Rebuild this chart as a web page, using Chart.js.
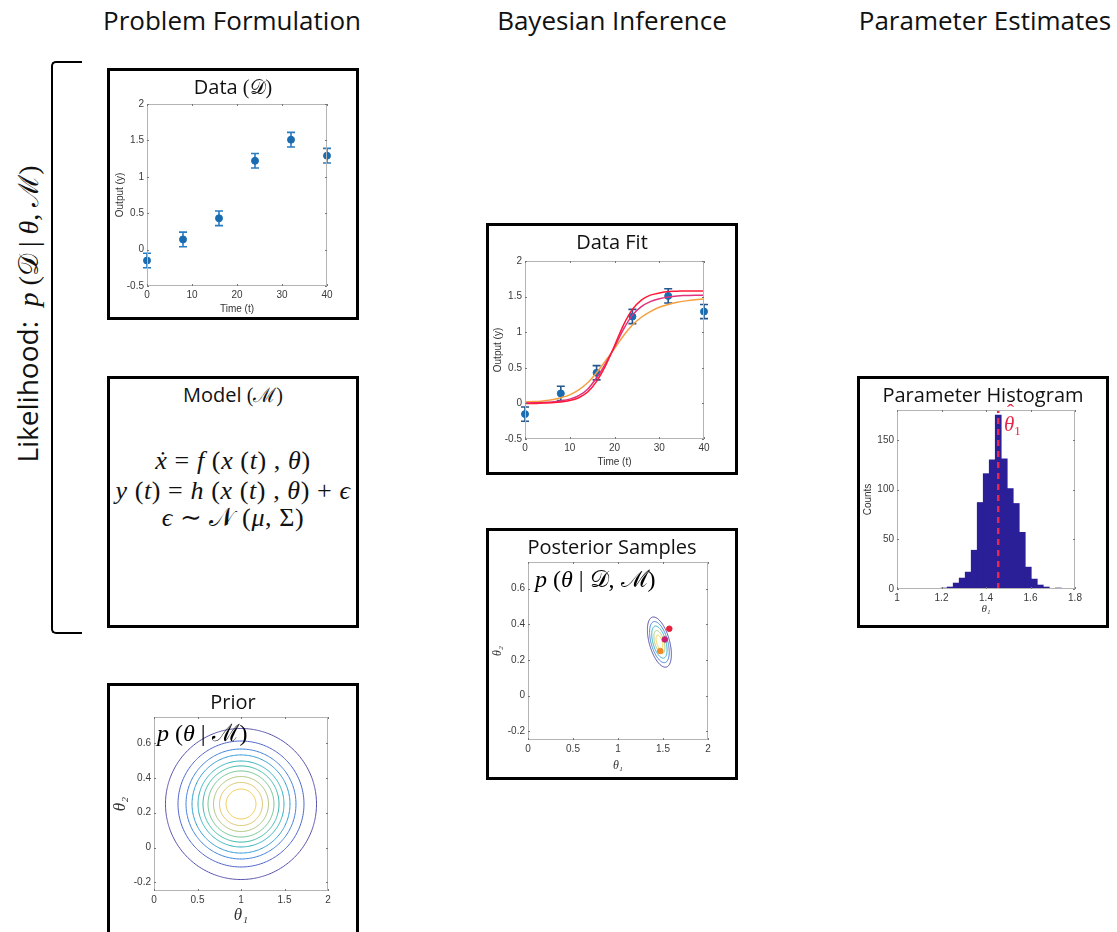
<!DOCTYPE html>
<html>
<head>
<meta charset="utf-8">
<script src="https://cdn.jsdelivr.net/npm/chart.js@4.4.0/dist/chart.umd.min.js"></script>
<style>
  body { margin: 0; background: #fff; width: 1117px; height: 932px; position: relative; overflow: hidden; font-family: "Open Sans", sans-serif; color: #111; }
  .hdr { position: absolute; top: 7px; font-size: 26px; line-height: 26px; transform: translateX(-50%); white-space: nowrap; }
  .box { position: absolute; width: 252px; height: 252px; border: 3px solid #000; box-sizing: border-box; background: #fff; }
  .box canvas { position: absolute; left: 0; top: 0; }
  .ttl { position: absolute; left: 0; right: 0; top: 6px; text-align: center; font-size: 20px; line-height: 20px; white-space: nowrap; }
  .m { font-family: "Liberation Serif", "DejaVu Serif", serif; }
  .mi { font-family: "Liberation Serif", "DejaVu Serif", serif; font-style: italic; }
  .ovl { position: absolute; font-family: "Liberation Serif", "DejaVu Serif", serif; font-size: 24px; line-height: 24px; white-space: nowrap; color: #000; }
  .eq { position: absolute; left: 0; right: 0; text-align: center; font-family: "Liberation Serif", "DejaVu Serif", serif; font-size: 26px; line-height: 26px; letter-spacing: 0.6px; white-space: nowrap; }
  .bracket { position: absolute; left: 51px; top: 61px; width: 31px; height: 573px; border: 2.5px solid #000; border-right: none; border-radius: 5px 0 0 5px; box-sizing: border-box; }
  .lik { position: absolute; left: 28px; top: 314px; transform: translate(-50%, -50%) rotate(-90deg); font-size: 28px; line-height: 28px; white-space: nowrap; }
</style>
</head>
<body>

<div class="hdr" style="left:232px">Problem Formulation</div>
<div class="hdr" style="left:612px">Bayesian Inference</div>
<div class="hdr" style="left:985px">Parameter Estimates</div>

<div class="bracket"></div>
<div class="lik">Likelihood:&nbsp; <span class="mi" style="font-size:28px">p</span><span class="m" style="font-size:28px"> (𝒟 | <i>θ</i>, ℳ)</span></div>

<div class="box" style="left:107px; top:68px">
  <canvas id="dataChart" width="246" height="246"></canvas>
  <div class="ttl">Data <span class="m">(𝒟)</span></div>
</div>

<div class="box" style="left:107px; top:376px">
  <div class="ttl">Model <span class="m">(ℳ)</span></div>
  <div class="eq" style="top:69px"><i>ẋ</i> = <i>f</i> (<i>x</i> (<i>t</i>) , <i>θ</i>)</div>
  <div class="eq" style="top:99px"><i>y</i> (<i>t</i>) = <i>h</i> (<i>x</i> (<i>t</i>) , <i>θ</i>) + <i>ϵ</i></div>
  <div class="eq" style="top:126px"><i>ϵ</i> ∼ 𝒩 (<i>μ</i>, Σ)</div>
</div>

<div class="box" style="left:107px; top:683px">
  <canvas id="priorChart" width="246" height="246"></canvas>
  <div class="ttl">Prior</div>
  <div class="ovl" style="left:47px; top:35px"><i>p</i> (<i>θ</i> | ℳ)</div>
</div>

<div class="box" style="left:486px; top:223px">
  <canvas id="fitChart" width="246" height="246"></canvas>
  <div class="ttl">Data Fit</div>
</div>

<div class="box" style="left:486px; top:528px">
  <canvas id="postChart" width="246" height="246"></canvas>
  <div class="ttl">Posterior Samples</div>
  <div class="ovl" style="left:46px; top:36px"><i>p</i> (<i>θ</i> | 𝒟, ℳ)</div>
</div>

<div class="box" style="left:857px; top:376px">
  <canvas id="histChart" width="246" height="246"></canvas>
  <div class="ttl">Parameter Histogram</div>
  <div class="ovl" style="left:144px; top:35px; color:#e8284a; font-size:21px; line-height:21px"><span style="position:relative"><i>θ</i><span style="position:absolute; left:3px; top:-10px; font-style:normal">ˆ</span></span><span style="font-size:13px; position:relative; top:4px">1</span></div>
</div>

<script>
// measured data
const timePts = [0, 8, 16, 24, 32, 40];
const outputY = [-0.15, 0.14, 0.43, 1.22, 1.51, 1.29];
const outputErr = [0.1, 0.1, 0.1, 0.1, 0.1, 0.1];

// three model fits
const fitTime = [0, 2, 4, 6, 8, 10, 12, 14, 16, 18, 20, 22, 24, 26, 28, 30, 32, 34, 36, 38, 40];
const fitRed = [0.00, 0.00, 0.005, 0.01, 0.02, 0.04, 0.08, 0.16, 0.31, 0.53, 0.81, 1.10, 1.32, 1.45, 1.52, 1.55, 1.57, 1.575, 1.58, 1.58, 1.58];
const fitMagenta = [0.005, 0.008, 0.012, 0.02, 0.035, 0.06, 0.11, 0.20, 0.36, 0.56, 0.79, 1.04, 1.24, 1.36, 1.43, 1.47, 1.495, 1.51, 1.515, 1.52, 1.52];
const fitOrange = [0.02, 0.025, 0.035, 0.05, 0.08, 0.12, 0.19, 0.29, 0.43, 0.60, 0.77, 0.95, 1.10, 1.21, 1.29, 1.35, 1.39, 1.42, 1.44, 1.455, 1.465];

const timeTicks = [0, 10, 20, 30, 40];
const outputTicks = [-0.5, 0, 0.5, 1, 1.5, 2];
const theta1Ticks = [0, 0.5, 1, 1.5, 2];
const theta2Ticks = [-0.2, 0, 0.2, 0.4, 0.6];

// prior contours: circles round (1, 0.25)
const priorCenter = [1, 0.25];
const priorRadT1 = [0.868, 0.724, 0.632, 0.563, 0.494, 0.437, 0.379, 0.316, 0.247, 0.172];
const priorRadT2 = [0.434, 0.362, 0.316, 0.282, 0.247, 0.219, 0.190, 0.158, 0.124, 0.086];
const priorColors = ['#5650a8', '#4c62cc', '#3f7fd6', '#2f99d4', '#2eaec0', '#3bb8a6', '#6cc08a', '#a8c072', '#d8be5c', '#f0c848'];

// posterior contours: tilted ellipses
const postCenter = [1.46, 0.30];
const postMajor = [0.078, -0.14];
const postMinor = [0.108, 0.016];
const postLevels = [1, 0.82, 0.64, 0.46, 0.28];
const postColors = ['#5048a4', '#3f7fd6', '#2eaec0', '#a8c872', '#f0d040'];

const sampleT1 = [1.57, 1.52, 1.47];
const sampleT2 = [0.375, 0.315, 0.25];
const sampleColors = ['#e8203c', '#c8206e', '#f08a28'];

// histogram of theta_1
const histCenters = [1.212, 1.239, 1.266, 1.293, 1.320, 1.347, 1.374, 1.401, 1.428, 1.455, 1.482, 1.509, 1.536, 1.563, 1.590, 1.617, 1.644, 1.671, 1.698, 1.725];
const histCounts = [1, 2, 6, 11, 17, 39, 87, 116, 130, 175, 131, 101, 86, 57, 22, 10, 4, 2, 0, 1];
const histTicksX = [1, 1.2, 1.4, 1.6, 1.8];
const histTicksY = [0, 50, 100, 150];
const thetaHat = 1.455;

Chart.defaults.font.family = '"Liberation Sans", Arial, sans-serif';
Chart.defaults.font.size = 10;
Chart.defaults.color = '#3a3a3a';
Chart.defaults.animation = false;
Chart.defaults.responsive = false;
Chart.defaults.plugins.legend.display = false;
Chart.defaults.plugins.tooltip.enabled = false;

// matlab style box with inward ticks
const frame = {
  id: 'frame',
  afterDatasetsDraw(chart) {
    const {ctx, chartArea: a, scales} = chart;
    ctx.save();
    ctx.strokeStyle = '#b4b4b4';
    ctx.lineWidth = 1;
    ctx.strokeRect(a.left + 0.5, a.top + 0.5, a.right - a.left - 1, a.bottom - a.top - 1);
    ctx.strokeStyle = '#777';
    ctx.beginPath();
    scales.x.ticks.forEach(t => {
      const px = Math.round(scales.x.getPixelForValue(t.value)) + 0.5;
      ctx.moveTo(px, a.bottom); ctx.lineTo(px, a.bottom - 2);
      ctx.moveTo(px, a.top); ctx.lineTo(px, a.top + 2);
    });
    scales.y.ticks.forEach(t => {
      const py = Math.round(scales.y.getPixelForValue(t.value)) + 0.5;
      ctx.moveTo(a.left, py); ctx.lineTo(a.left + 2, py);
      ctx.moveTo(a.right, py); ctx.lineTo(a.right - 2, py);
    });
    ctx.stroke();
    ctx.restore();
  }
};
Chart.register(frame);

function errorBars(color) {
  return {
    id: 'errbars',
    beforeDatasetsDraw(chart) {
      const {ctx, scales: {x, y}} = chart;
      ctx.save();
      ctx.strokeStyle = color;
      ctx.lineWidth = 1.6;
      timePts.forEach((t, i) => {
        const px = x.getPixelForValue(t);
        const y0 = y.getPixelForValue(outputY[i] - outputErr[i]);
        const y1 = y.getPixelForValue(outputY[i] + outputErr[i]);
        ctx.beginPath();
        ctx.moveTo(px, y0); ctx.lineTo(px, y1);
        ctx.moveTo(px - 4, y0); ctx.lineTo(px + 4, y0);
        ctx.moveTo(px - 4, y1); ctx.lineTo(px + 4, y1);
        ctx.stroke();
      });
      ctx.restore();
    }
  };
}

function axis(min, max, ticks, size, title, tfont, tpad) {
  return {
    type: 'linear', min: min, max: max, offset: false,
    grid: {display: false, drawTicks: false}, border: {display: false},
    afterBuildTicks: s => { s.ticks = ticks.map(v => ({value: v})); },
    afterFit: s => { if (s.isHorizontal()) s.height = size; else s.width = size; },
    ticks: {padding: 3, autoSkip: false, maxRotation: 0, callback: v => String(v)},
    title: {display: true, text: title, font: tfont, padding: tpad, color: '#333'}
  };
}

function pad(top, right) {
  return {padding: {left: 0, bottom: 0, top: top, right: right}};
}

// points round an ellipse from its centre and half axes
function ring(cx, cy, ax, ay, bx, by) {
  const pts = [];
  for (let k = 0; k <= 120; k++) {
    const a = k / 120 * Math.PI * 2;
    pts.push({x: cx + Math.cos(a) * ax + Math.sin(a) * bx, y: cy + Math.cos(a) * ay + Math.sin(a) * by});
  }
  return pts;
}

const thetaFont = (size) => ({family: '"Liberation Serif", serif', style: 'italic', size: size});

// Data
new Chart(document.getElementById('dataChart'), {
  type: 'scatter',
  data: {
    datasets: [{
      data: timePts.map((t, i) => ({x: t, y: outputY[i]})),
      backgroundColor: '#1a6cb0', borderColor: '#1a6cb0', pointRadius: 3.5, clip: false
    }]
  },
  options: {
    layout: pad(33, 29),
    scales: {
      x: axis(0, 40, timeTicks, 31, 'Time (t)', {size: 10}, {top: 0, bottom: 2}),
      y: axis(-0.5, 2, outputTicks, 37, 'Output (y)', {size: 10}, {top: 4, bottom: 0})
    }
  },
  plugins: [errorBars('#2a7cc0')]
});

// Data Fit
new Chart(document.getElementById('fitChart'), {
  type: 'scatter',
  data: {
    datasets: [
      {data: fitTime.map((t, i) => ({x: t, y: fitRed[i]})), showLine: true, borderColor: '#ff1838', borderWidth: 1.5, pointRadius: 0, cubicInterpolationMode: 'monotone'},
      {data: fitTime.map((t, i) => ({x: t, y: fitMagenta[i]})), showLine: true, borderColor: '#e0307e', borderWidth: 1.5, pointRadius: 0, cubicInterpolationMode: 'monotone'},
      {data: fitTime.map((t, i) => ({x: t, y: fitOrange[i]})), showLine: true, borderColor: '#f4a040', borderWidth: 1.5, pointRadius: 0, cubicInterpolationMode: 'monotone'},
      {data: timePts.map((t, i) => ({x: t, y: outputY[i]})), backgroundColor: '#1a6cb0', borderColor: '#1a6cb0', pointRadius: 3.5, clip: false}
    ]
  },
  options: {
    layout: pad(35, 31),
    scales: {
      x: axis(0, 40, timeTicks, 33, 'Time (t)', {size: 10}, {top: 0, bottom: 4}),
      y: axis(-0.5, 2, outputTicks, 36, 'Output (y)', {size: 10}, {top: 3, bottom: 0})
    }
  },
  plugins: [errorBars('#24588c')]
});

// Posterior
const postSets = postLevels.map((s, i) => ({
  data: ring(postCenter[0], postCenter[1], postMajor[0] * s, postMajor[1] * s, postMinor[0] * s, postMinor[1] * s),
  showLine: true, borderColor: postColors[i], borderWidth: 1, pointRadius: 0, tension: 0.2
}));
postSets.unshift({
  data: sampleT1.map((v, i) => ({x: v, y: sampleT2[i]})),
  backgroundColor: sampleColors, borderColor: sampleColors, pointRadius: 2.8
});
new Chart(document.getElementById('postChart'), {
  type: 'scatter',
  data: {datasets: postSets},
  options: {
    layout: pad(31, 27),
    scales: {
      x: axis(0, 2, theta1Ticks, 37, 'θ₁', thetaFont(12), {top: 0, bottom: 4}),
      y: axis(-0.25, 0.75, theta2Ticks, 39, 'θ₂', thetaFont(12), {top: 2, bottom: 0})
    }
  }
});

// Prior
new Chart(document.getElementById('priorChart'), {
  type: 'scatter',
  data: {
    datasets: priorRadT1.map((r, i) => ({
      data: ring(priorCenter[0], priorCenter[1], r, 0, 0, priorRadT2[i]),
      showLine: true, borderColor: priorColors[i], borderWidth: 1, pointRadius: 0, tension: 0.2
    }))
  },
  options: {
    layout: pad(31, 28),
    scales: {
      x: axis(0, 2, theta1Ticks, 41, 'θ₁', thetaFont(17), {top: 0, bottom: 6}),
      y: axis(-0.25, 0.75, theta2Ticks, 44, 'θ₂', thetaFont(17), {top: 0, bottom: 0})
    }
  }
});

// Histogram
new Chart(document.getElementById('histChart'), {
  type: 'bar',
  data: {
    datasets: [
      {type: 'line', order: 0, data: [{x: thetaHat, y: 0}, {x: thetaHat, y: 180}], borderColor: '#e8284a', borderWidth: 2.5, borderDash: [6, 5], pointRadius: 0},
      {order: 1, data: histCenters.map((c, i) => ({x: c, y: histCounts[i]})), backgroundColor: '#2b1f98', barPercentage: 1, categoryPercentage: 1}
    ]
  },
  options: {
    layout: pad(31, 31),
    scales: {
      x: axis(1, 1.8, histTicksX, 36, 'θ₁', thetaFont(11), {top: 0, bottom: 9}),
      y: axis(0, 180, histTicksY, 37, 'Counts', {size: 10}, {top: 2, bottom: 0})
    }
  }
});
</script>
</body>
</html>
